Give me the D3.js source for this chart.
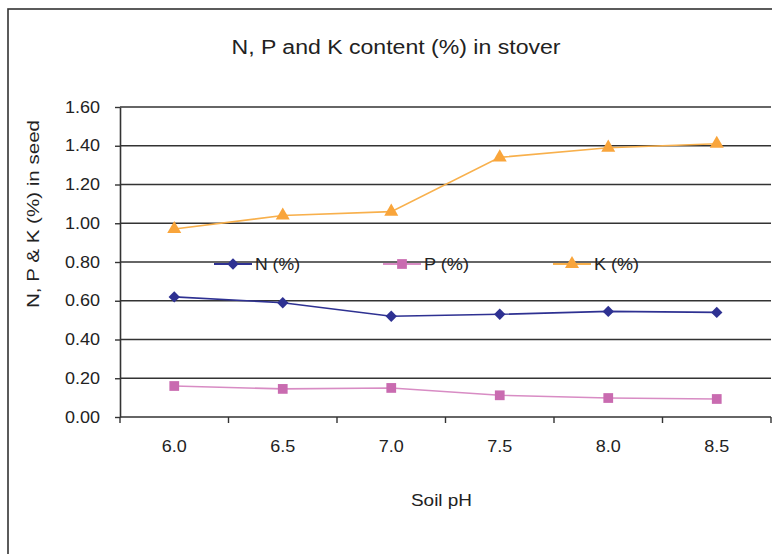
<!DOCTYPE html>
<html>
<head>
<meta charset="utf-8">
<script src="https://cdn.jsdelivr.net/npm/d3@7/dist/d3.min.js"></script>
<style>
  html, body { margin: 0; padding: 0; background: #fff; }
  text { font-family: "Liberation Sans", Arial, sans-serif; fill: #222; }
</style>
</head>
<body>
<svg id="chart" width="772" height="554"></svg>
<script>
const categories = ["6.0", "6.5", "7.0", "7.5", "8.0", "8.5"];
const nValues = [0.62, 0.59, 0.52, 0.53, 0.545, 0.54];
const pValues = [0.16, 0.145, 0.15, 0.112, 0.098, 0.093];
const kValues = [0.97, 1.04, 1.06, 1.34, 1.39, 1.41];
const yTicks = [0, 0.2, 0.4, 0.6, 0.8, 1.0, 1.2, 1.4, 1.6];
const seriesNames = ["N (%)", "P (%)", "K (%)"];

(function () {
const diamond = { draw(ctx, size) { const r = Math.sqrt(size) / 2; ctx.moveTo(0, -r); ctx.lineTo(r, 0); ctx.lineTo(0, r); ctx.lineTo(-r, 0); ctx.closePath(); } };
const series = [
  { name: seriesNames[0], values: nValues, line: "#2e3192", fill: "#2e3192", shape: diamond, size: 130 },
  { name: seriesNames[1], values: pValues, line: "#d88cc4", fill: "#c96bb0", shape: d3.symbolSquare, size: 95 },
  { name: seriesNames[2], values: kValues, line: "#f8b04c", fill: "#f9a53b", shape: d3.symbolTriangle, size: 85 }
];

const svg = d3.select("#chart");
svg.append("rect").attr("width", 772).attr("height", 554).attr("fill", "#fff");

// outer frame
svg.append("rect").attr("x", 8).attr("y", 9).attr("width", 800).attr("height", 600)
  .attr("fill", "none").attr("stroke", "#333").attr("stroke-width", 1.6);

const pLeft = 120, pRight = 771, pTop = 107, pBottom = 417;
const x = d3.scaleBand().domain(categories).range([pLeft, pRight]).padding(0);
const y = d3.scaleLinear().domain([0, 1.6]).range([pBottom, pTop]);

// gridlines
svg.append("g").selectAll("line").data(yTicks.filter(d => d > 0)).join("line")
  .attr("x1", pLeft).attr("x2", pRight)
  .attr("y1", d => y(d)).attr("y2", d => y(d))
  .attr("stroke", "#333").attr("stroke-width", 1.6);

// y axis
const yAxis = svg.append("g").attr("transform", `translate(${pLeft},0)`)
  .call(d3.axisLeft(y).tickValues(yTicks).tickFormat(d3.format(".2f")).tickSizeInner(5).tickSizeOuter(0).tickPadding(15));
yAxis.select(".domain").attr("stroke", "#333").attr("stroke-width", 1.6);
yAxis.selectAll(".tick line").attr("stroke", "#333").attr("stroke-width", 1.4);
yAxis.selectAll("text").attr("font-size", 16).attr("textLength", 35).attr("lengthAdjust", "spacingAndGlyphs")
  .attr("font-family", "Liberation Sans, Arial, sans-serif").attr("fill", "#222");

// x axis line
svg.append("line").attr("x1", pLeft).attr("x2", pRight).attr("y1", pBottom).attr("y2", pBottom)
  .attr("stroke", "#333").attr("stroke-width", 1.6);
// boundary ticks
const bounds = categories.map(c => x(c)).concat([x.range()[1]]);
svg.append("g").selectAll("line").data(bounds).join("line")
  .attr("x1", d => d).attr("x2", d => d).attr("y1", pBottom).attr("y2", pBottom + 6)
  .attr("stroke", "#333").attr("stroke-width", 1.4);
// x labels
const xAxis = svg.append("g").attr("transform", `translate(0,${pBottom})`)
  .call(d3.axisBottom(x).tickSize(0).tickPadding(24));
xAxis.select(".domain").remove();
xAxis.selectAll("text").attr("font-size", 16).attr("textLength", 25).attr("lengthAdjust", "spacingAndGlyphs")
  .attr("font-family", "Liberation Sans, Arial, sans-serif").attr("fill", "#222");

const cx = c => x(c) + x.bandwidth() / 2;

// lines + markers
series.forEach(s => {
  const line = d3.line().x((d, i) => cx(categories[i])).y(d => y(d));
  svg.append("path").datum(s.values).attr("d", line)
    .attr("fill", "none").attr("stroke", s.line).attr("stroke-width", 1.6);
  svg.append("g").selectAll("path").data(s.values).join("path")
    .attr("transform", (d, i) => `translate(${cx(categories[i])},${y(d)})`)
    .attr("d", d3.symbol().type(s.shape).size(s.size))
    .attr("fill", s.fill);
});

// legend
const legendX = [214, 383, 553];
series.forEach((s, i) => {
  const g = svg.append("g").attr("transform", `translate(${legendX[i]},264)`);
  g.append("line").attr("x1", 0).attr("x2", 38).attr("y1", 0).attr("y2", 0)
    .attr("stroke", s.line).attr("stroke-width", 2);
  g.append("path").attr("transform", "translate(19,0)")
    .attr("d", d3.symbol().type(s.shape).size(s.size)).attr("fill", s.fill);
  g.append("text").attr("x", 41).attr("y", 6).attr("font-size", 16)
    .attr("textLength", 45).attr("lengthAdjust", "spacingAndGlyphs").text(s.name);
});

// title
svg.append("text").attr("x", 396).attr("y", 54).attr("text-anchor", "middle")
  .attr("font-size", 20).attr("textLength", 329).attr("lengthAdjust", "spacingAndGlyphs")
  .text("N, P and K content (%) in stover");

// y axis title
svg.append("text").attr("transform", "translate(39,214) rotate(-90)")
  .attr("text-anchor", "middle").attr("font-size", 16)
  .attr("textLength", 188).attr("lengthAdjust", "spacingAndGlyphs")
  .text("N, P & K (%) in seed");

// x axis title
svg.append("text").attr("x", 441.5).attr("y", 506).attr("text-anchor", "middle")
  .attr("font-size", 16).attr("textLength", 61).attr("lengthAdjust", "spacingAndGlyphs")
  .text("Soil pH");
})();
</script>
</body>
</html>
